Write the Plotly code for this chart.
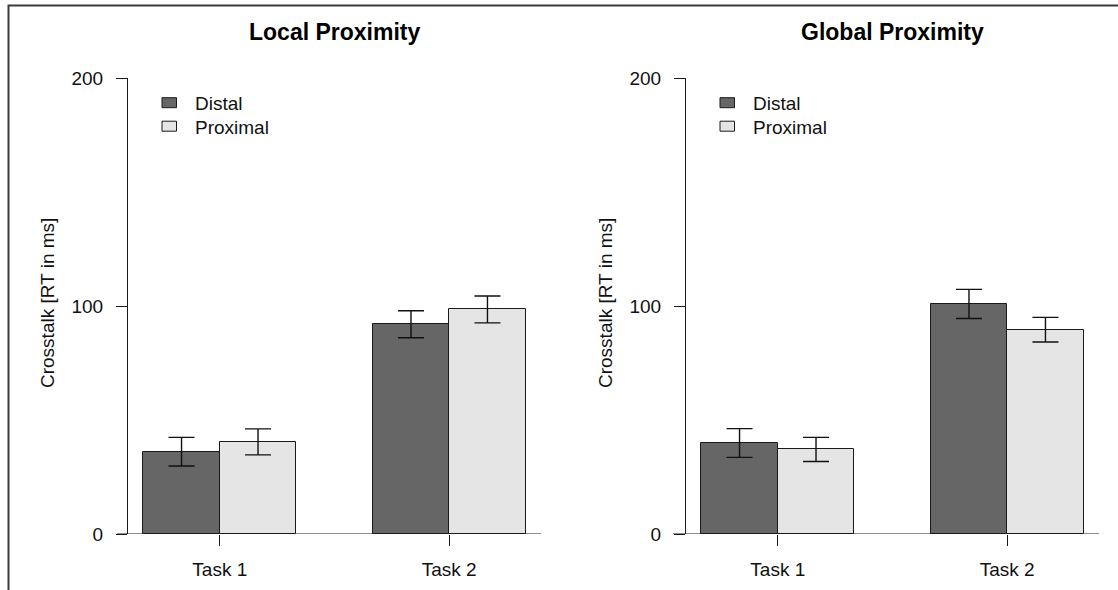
import plotly.graph_objects as go

# ---------------- data ----------------
tasks = ["Task 1", "Task 2"]
groups = ["Distal", "Proximal"]
panel_titles = ["Local Proximity", "Global Proximity"]

local_distal = [36.1, 92.0]
local_distal_err = [6.3, 5.9]
local_proximal = [40.4, 98.5]
local_proximal_err = [5.7, 5.9]

global_distal = [39.9, 100.9]
global_distal_err = [6.3, 6.4]
global_proximal = [37.1, 89.6]
global_proximal_err = [5.3, 5.4]

y_ticks = [0, 100, 200]
y_title = "Crosstalk [RT in ms]"

# ---------------- styling ----------------
W, H = 1118, 590
FONT = "Liberation Sans, Arial, sans-serif"
col_distal = "#666666"
col_prox = "#E5E5E5"
edge = "#1a1a1a"

def px(x):
    return x / W

def py(y):
    return (H - y) / H

panels = [
    dict(xd=(128, 541), yleft=117, distal=local_distal, de=local_distal_err,
         prox=local_proximal, pe=local_proximal_err, title=panel_titles[0]),
    dict(xd=(686, 1099), yleft=673, distal=global_distal, de=global_distal_err,
         prox=global_proximal, pe=global_proximal_err, title=panel_titles[1]),
]

fig = go.Figure()
shapes = []
annotations = []

x_distal = [1.5 + 3 * i for i in range(len(tasks))]
x_prox = [2.5 + 3 * i for i in range(len(tasks))]
x_tick = [2 + 3 * i for i in range(len(tasks))]

for k, p in enumerate(panels):
    xa = "x" if k == 0 else "x2"
    ya = "y" if k == 0 else "y2"
    for xs, vals, errs, col, name in [
        (x_distal, p["distal"], p["de"], col_distal, groups[0]),
        (x_prox, p["prox"], p["pe"], col_prox, groups[1]),
    ]:
        fig.add_trace(go.Bar(
            x=xs, y=vals, width=1.0, name=name, showlegend=False,
            marker=dict(color=col, line=dict(color=edge, width=1)),
            error_y=dict(type="data", array=errs, visible=True,
                         color="#111111", thickness=1.4, width=13),
            xaxis=xa, yaxis=ya,
        ))
    dom_w = p["xd"][1] - p["xd"][0]
    xdref = xa + " domain"
    shapes.append(dict(type="line", xref=xdref, yref=ya,
                       x0=(p["yleft"] - p["xd"][0]) / dom_w, x1=1, y0=0, y1=0,
                       line=dict(color=edge, width=1)))
    for j, (name, col) in enumerate([(groups[0], col_distal), (groups[1], col_prox)]):
        top = 97.7 + j * 23.5
        bot = top + 10
        shapes.append(dict(type="rect", xref="paper", yref="paper",
                           x0=px(p["xd"][0] + 34), x1=px(p["xd"][0] + 48.5),
                           y0=py(bot), y1=py(top),
                           fillcolor=col, line=dict(color=edge, width=1)))
        annotations.append(dict(text=name, xref="paper", yref="paper",
                                x=px(p["xd"][0] + 65), y=py(top + 6),
                                xanchor="left", yanchor="middle", showarrow=False,
                                font=dict(family=FONT, size=19, color="#111111")))
    annotations.append(dict(text="<b>%s</b>" % p["title"], xref="paper", yref="paper",
                            x=px((p["xd"][0] + p["xd"][1]) / 2), y=py(32),
                            xanchor="center", yanchor="middle", showarrow=False,
                            font=dict(family=FONT, size=23, color="#000000")))
    annotations.append(dict(text=y_title, xref="paper", yref="paper",
                            x=px(p["xd"][0] - 81), y=py(303), textangle=-90,
                            xanchor="center", yanchor="middle", showarrow=False,
                            font=dict(family=FONT, size=19, color="#111111")))

shapes.append(dict(type="rect", xref="paper", yref="paper",
                   x0=px(8.5), x1=1.05, y0=-0.1, y1=py(5.5),
                   line=dict(color="#3a3a3a", width=2), fillcolor="rgba(0,0,0,0)"))

ydom = [py(534), py(78)]
yaxis_common = dict(range=[0, 200], domain=ydom, tickvals=y_ticks,
                    showline=True, linecolor=edge, linewidth=1,
                    ticks="outside", ticklen=11, tickcolor=edge, tickwidth=1,
                    showgrid=False, zeroline=False, ticklabelstandoff=9,
                    automargin=False,
                    tickfont=dict(family=FONT, size=19, color="#111111"))
xaxis_common = dict(range=[0.8, 6.2], tickvals=x_tick, ticktext=tasks,
                    showline=False, ticks="outside", ticklen=11, tickcolor=edge,
                    tickwidth=1, showgrid=False, zeroline=False, automargin=False,
                    ticklabelstandoff=7,
                    tickfont=dict(family=FONT, size=19, color="#111111"))

fig.update_layout(
    width=W, height=H,
    margin=dict(l=0, r=0, t=0, b=0, pad=0, autoexpand=False),
    paper_bgcolor="white", plot_bgcolor="white",
    barmode="overlay", bargap=0,
    xaxis=dict(domain=[px(128), px(541)], anchor="y", **xaxis_common),
    xaxis2=dict(domain=[px(686), px(1099)], anchor="y2", **xaxis_common),
    yaxis=dict(anchor="x", **yaxis_common),
    yaxis2=dict(anchor="x2", **yaxis_common),
    shapes=shapes, annotations=annotations,
    showlegend=False,
)

fig.write_html("out.html", config={"displayModeBar": False},
               post_script="document.body.style.margin='0';document.documentElement.style.overflow='hidden';")
